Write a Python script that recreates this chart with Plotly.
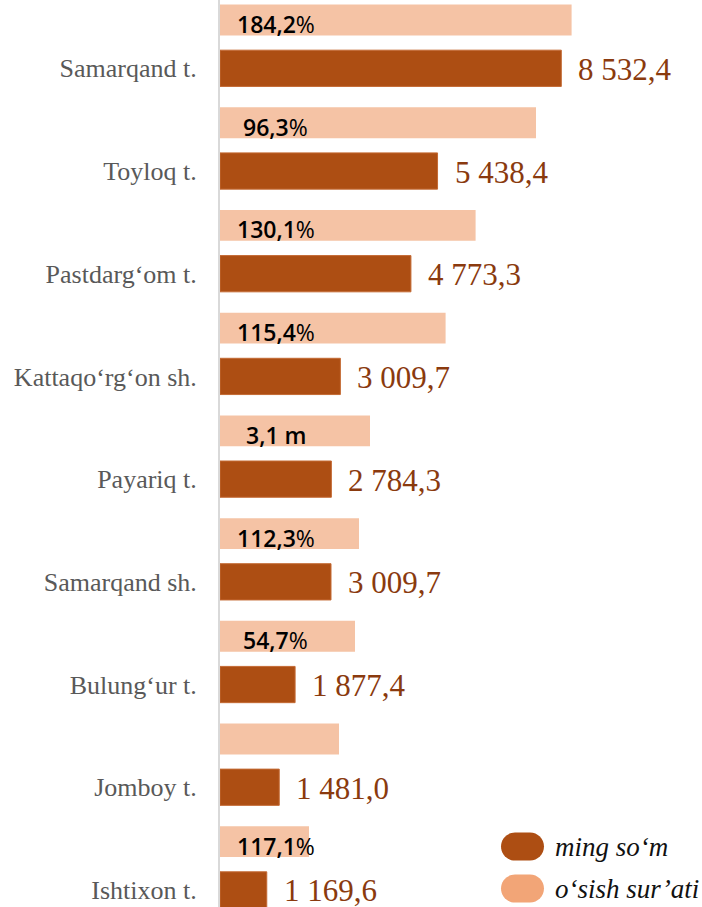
import plotly.graph_objects as go

# ---------------- data ----------------
categories = ["Samarqand t.", "Toyloq t.", "Pastdarg‘om t.", "Kattaqo‘rg‘on sh.",
              "Payariq t.", "Samarqand sh.", "Bulung‘ur t.", "Jomboy t.", "Ishtixon t."]
ming_som = [8532.4, 5438.4, 4773.3, 3009.7, 2784.3, 2775.0, 1877.4, 1481.0, 1169.6]
ming_som_labels = ["8 532,4", "5 438,4", "4 773,3", "3 009,7", "2 784,3",
                   "3 009,7", "1 877,4", "1 481,0", "1 169,6"]
osish_bar = [8790, 7900, 6390, 5640, 3750, 3475, 3375, 2975, 2225]
osish_labels = ["184,2%", "96,3%", "130,1%", "115,4%", "3,1 m",
                "112,3%", "54,7%", "", "117,1%"]
series_names = ["ming so‘m", "o‘sish sur’ati"]

# ---------------- styling ----------------
DARK = "#AD4E13"
LIGHT = "#F5C3A5"
LEGEND_LIGHT = "#F2A577"
LABEL_BROWN = "#8A3A0E"
W, H = 702, 907
ML = 220
DARK_W = 0.353
LIGHT_W = 0.30
LIGHT_SHIFT = -0.47   # light bar centre relative to category
LIGHT_LABEL_X = 1390  # centre of the growth labels (data units)

fig = go.Figure()
fig.add_trace(go.Bar(
    y=categories, x=ming_som, orientation="h", name=series_names[0],
    marker=dict(color=DARK, line=dict(color="#C46A34", width=1)),
    width=DARK_W, offset=-DARK_W / 2, showlegend=False, hoverinfo="skip"))
fig.add_trace(go.Bar(
    y=categories, x=osish_bar, orientation="h", name=series_names[1],
    marker=dict(color=LIGHT, line=dict(width=0)),
    width=LIGHT_W, offset=LIGHT_SHIFT - LIGHT_W / 2, showlegend=False, hoverinfo="skip"))

annotations = []
for i, (v, lab) in enumerate(zip(ming_som, ming_som_labels)):
    annotations.append(dict(
        x=v, y=i, xref="x", yref="y", text=lab, showarrow=False,
        xanchor="left", yanchor="middle", xshift=15, yshift=-1,
        font=dict(family="Liberation Serif, Times New Roman, serif", size=31, color=LABEL_BROWN)))
for i, lab in enumerate(osish_labels):
    if not lab:
        continue
    if lab.endswith("%"):
        txt = lab[:-1] + "<span style='font-weight:normal'>%</span>"
    else:
        txt = lab
    annotations.append(dict(
        x=LIGHT_LABEL_X, y=i + LIGHT_SHIFT, xref="x", yref="y", text=txt, showarrow=False,
        xanchor="center", yanchor="middle", yshift=-4,
        font=dict(family="Open Sans, DejaVu Sans, sans-serif", size=23, color="#000000", weight=600)))

# legend (custom rounded swatches)
PW = W - ML


def px2paper_x(px):
    return (px - ML) / PW


def px2paper_y(py):
    return (H - py) / H


def pill_path(x0, y0, x1, y1):
    r = (y1 - y0) / 2
    k = 0.5523 * r

    def P(x, y):
        return f"{px2paper_x(x):.5f},{px2paper_y(y):.5f}"
    path = f"M {P(x0 + r, y0)} L {P(x1 - r, y0)} "
    path += f"C {P(x1 - r + k, y0)} {P(x1, y0 + r - k)} {P(x1, y0 + r)} "
    path += f"C {P(x1, y0 + r + k)} {P(x1 - r + k, y1)} {P(x1 - r, y1)} "
    path += f"L {P(x0 + r, y1)} "
    path += f"C {P(x0 + r - k, y1)} {P(x0, y0 + r + k)} {P(x0, y0 + r)} "
    path += f"C {P(x0, y0 + r - k)} {P(x0 + r - k, y0)} {P(x0 + r, y0)} Z"
    return path


shapes = []
legend_items = [(series_names[0], DARK, 832.5, 860.5), (series_names[1], LEGEND_LIGHT, 874.5, 902.5)]
for name, col, ya, yb in legend_items:
    shapes.append(dict(type="path", xref="paper", yref="paper", path=pill_path(501, ya, 544, yb),
                       fillcolor=col, line=dict(width=0), layer="above"))
    annotations.append(dict(
        x=px2paper_x(553), y=px2paper_y((ya + yb) / 2), xref="paper", yref="paper",
        text=f"<i>{name}</i>", showarrow=False, xanchor="left", yanchor="middle",
        font=dict(family="Liberation Serif, Times New Roman, serif", size=27, color="#111111")))

fig.update_layout(
    width=W, height=H,
    margin=dict(l=ML, r=0, t=0, b=0),
    paper_bgcolor="white", plot_bgcolor="white",
    barmode="overlay",
    showlegend=False,
    annotations=annotations,
    shapes=shapes,
    xaxis=dict(range=[0, (W - ML) * 25], showgrid=False, zeroline=False,
               showticklabels=False, showline=False, fixedrange=True),
    yaxis=dict(type="category", range=[8.166, -0.665], showgrid=False, zeroline=False,
               showline=True, linecolor="#D9D9D9", linewidth=2, ticks="",
               ticklabelstandoff=16,
               tickfont=dict(family="Liberation Serif, Times New Roman, serif", size=26, color="#595959"),
               fixedrange=True),
)

fig.write_html(
    "out.html",
    config={"displayModeBar": False},
    post_script="document.body.style.margin='0';document.body.style.overflow='hidden';",
)
